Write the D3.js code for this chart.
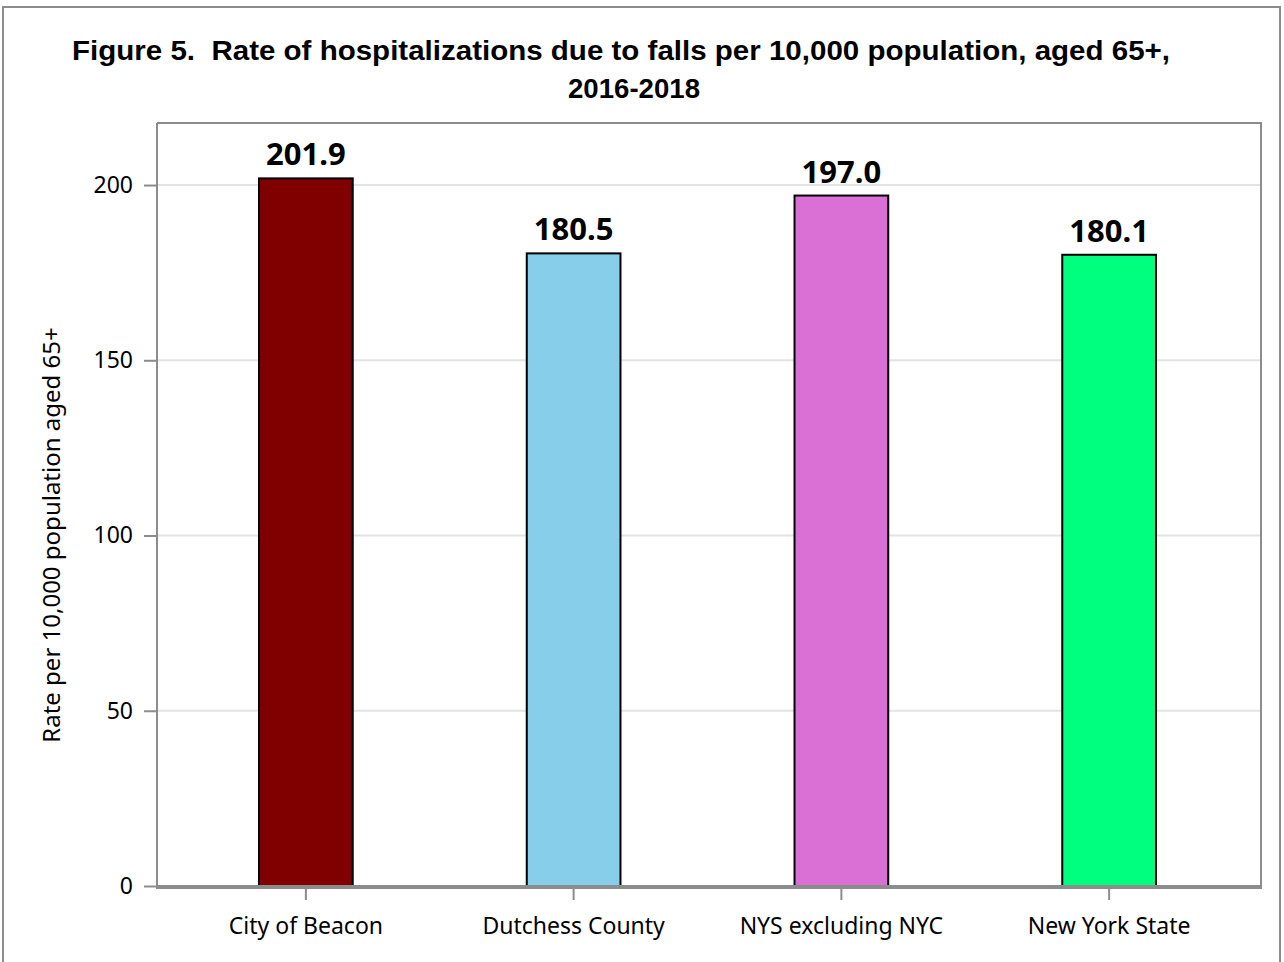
<!DOCTYPE html>
<html>
<head>
<meta charset="utf-8">
<script src="https://cdn.jsdelivr.net/npm/d3@7"></script>
<style>
  body { margin: 0; background: #fff; }
  .tick text { font-family: "Noto Sans", sans-serif; }
  .title { white-space: pre; }
</style>
</head>
<body>
<div id="chart"></div>
<script>
var svgWidth = 1284;
var svgHeight = 962;

// data
var categories = ["City of Beacon", "Dutchess County", "NYS excluding NYC", "New York State"];
var rates = [201.9, 180.5, 197.0, 180.1];
var barColors = ["#800000", "#87CEEB", "#DA70D6", "#00FF7F"];
var yTicks = [0, 50, 100, 150, 200];
var titleLines = ["Figure 5.  Rate of hospitalizations due to falls per 10,000 population, aged 65+,", "2016-2018"];
var yTitle = "Rate per 10,000 population aged 65+";

var plot = { left: 157, right: 1261, top: 123, bottom: 886 };

var svg = d3.select("#chart")
    .append("svg")
    .attr("width", svgWidth)
    .attr("height", svgHeight);

// outer frame
svg.append("rect")
    .attr("x", 3).attr("y", 7)
    .attr("width", 1277).attr("height", 970)
    .attr("fill", "none")
    .attr("stroke", "#8c8c8c")
    .attr("stroke-width", 2);

// title (two lines, positions)
var titlePos = [{ x: 621, y: 60, len: 1098 }, { x: 634, y: 98, len: 132 }];
svg.append("g")
    .selectAll("text")
    .data(titleLines)
    .enter()
    .append("text")
    .attr("class", "title")
    .attr("x", (d, i) => titlePos[i].x)
    .attr("y", (d, i) => titlePos[i].y)
    .attr("text-anchor", "middle")
    .attr("font-family", "Liberation Sans, Arial, sans-serif")
    .attr("font-weight", "bold")
    .attr("font-size", 28)
    .attr("textLength", (d, i) => titlePos[i].len)
    .attr("lengthAdjust", "spacingAndGlyphs")
    .attr("fill", "#000")
    .text(d => d);

var x = d3.scaleBand()
    .domain(categories)
    .range([172, 1243])
    .paddingInner(0.65)
    .paddingOuter(0.325);

var y = d3.scaleLinear()
    .domain([0, 217.7])
    .range([plot.bottom, plot.top]);

// gridlines
svg.append("g")
    .selectAll("line")
    .data(yTicks.filter(d => d > 0))
    .enter()
    .append("line")
    .attr("x1", plot.left).attr("x2", plot.right)
    .attr("y1", d => y(d)).attr("y2", d => y(d))
    .attr("stroke", "#e3e3e3")
    .attr("stroke-width", 2);

// plot frame top + right
svg.append("path")
    .attr("d", `M${plot.left},${plot.top}H${plot.right}V${plot.bottom}`)
    .attr("fill", "none")
    .attr("stroke", "#8c8c8c")
    .attr("stroke-width", 2);

// bars
svg.append("g")
    .selectAll("rect")
    .data(rates)
    .enter()
    .append("rect")
    .attr("x", (d, i) => x(categories[i]))
    .attr("y", d => y(d))
    .attr("width", x.bandwidth())
    .attr("height", d => y(0) - y(d))
    .attr("fill", (d, i) => barColors[i])
    .attr("stroke", "#000")
    .attr("stroke-width", 2);

// value labels
svg.append("g")
    .selectAll("text")
    .data(rates)
    .enter()
    .append("text")
    .attr("x", (d, i) => x(categories[i]) + x.bandwidth() / 2)
    .attr("y", d => y(d) - 13)
    .attr("text-anchor", "middle")
    .attr("font-family", "Noto Sans, sans-serif")
    .attr("font-weight", "bold")
    .attr("font-size", 31)
    .text(d => d.toFixed(1));

// y axis
var leftAxis = d3.axisLeft(y).tickValues(yTicks).tickSize(13).tickPadding(11);
var yAxisG = svg.append("g")
    .attr("transform", `translate(${plot.left}, 0)`)
    .call(leftAxis);
yAxisG.select(".domain").attr("stroke", "#8c8c8c").attr("stroke-width", 2)
    .attr("d", `M0,${plot.top}V${plot.bottom}`);
yAxisG.selectAll(".tick line").attr("stroke", "#8c8c8c").attr("stroke-width", 2);
yAxisG.selectAll(".tick text").attr("font-size", 23).attr("fill", "#000");

// x axis
var bottomAxis = d3.axisBottom(x).tickSize(14).tickPadding(18);
var xAxisG = svg.append("g")
    .attr("transform", `translate(0, ${plot.bottom})`)
    .call(bottomAxis);
xAxisG.select(".domain").attr("stroke", "#8c8c8c").attr("stroke-width", 4)
    .attr("d", `M${plot.left - 1},1H${plot.right + 1}`);
xAxisG.selectAll(".tick line").attr("stroke", "#8c8c8c").attr("stroke-width", 2);
xAxisG.selectAll(".tick text").attr("font-size", 23).attr("fill", "#000");

// y axis title
svg.append("text")
    .attr("transform", "rotate(-90)")
    .attr("x", -535)
    .attr("y", 60)
    .attr("text-anchor", "middle")
    .attr("font-family", "Noto Sans, sans-serif")
    .attr("font-size", 24)
    .text(yTitle);
</script>
</body>
</html>
